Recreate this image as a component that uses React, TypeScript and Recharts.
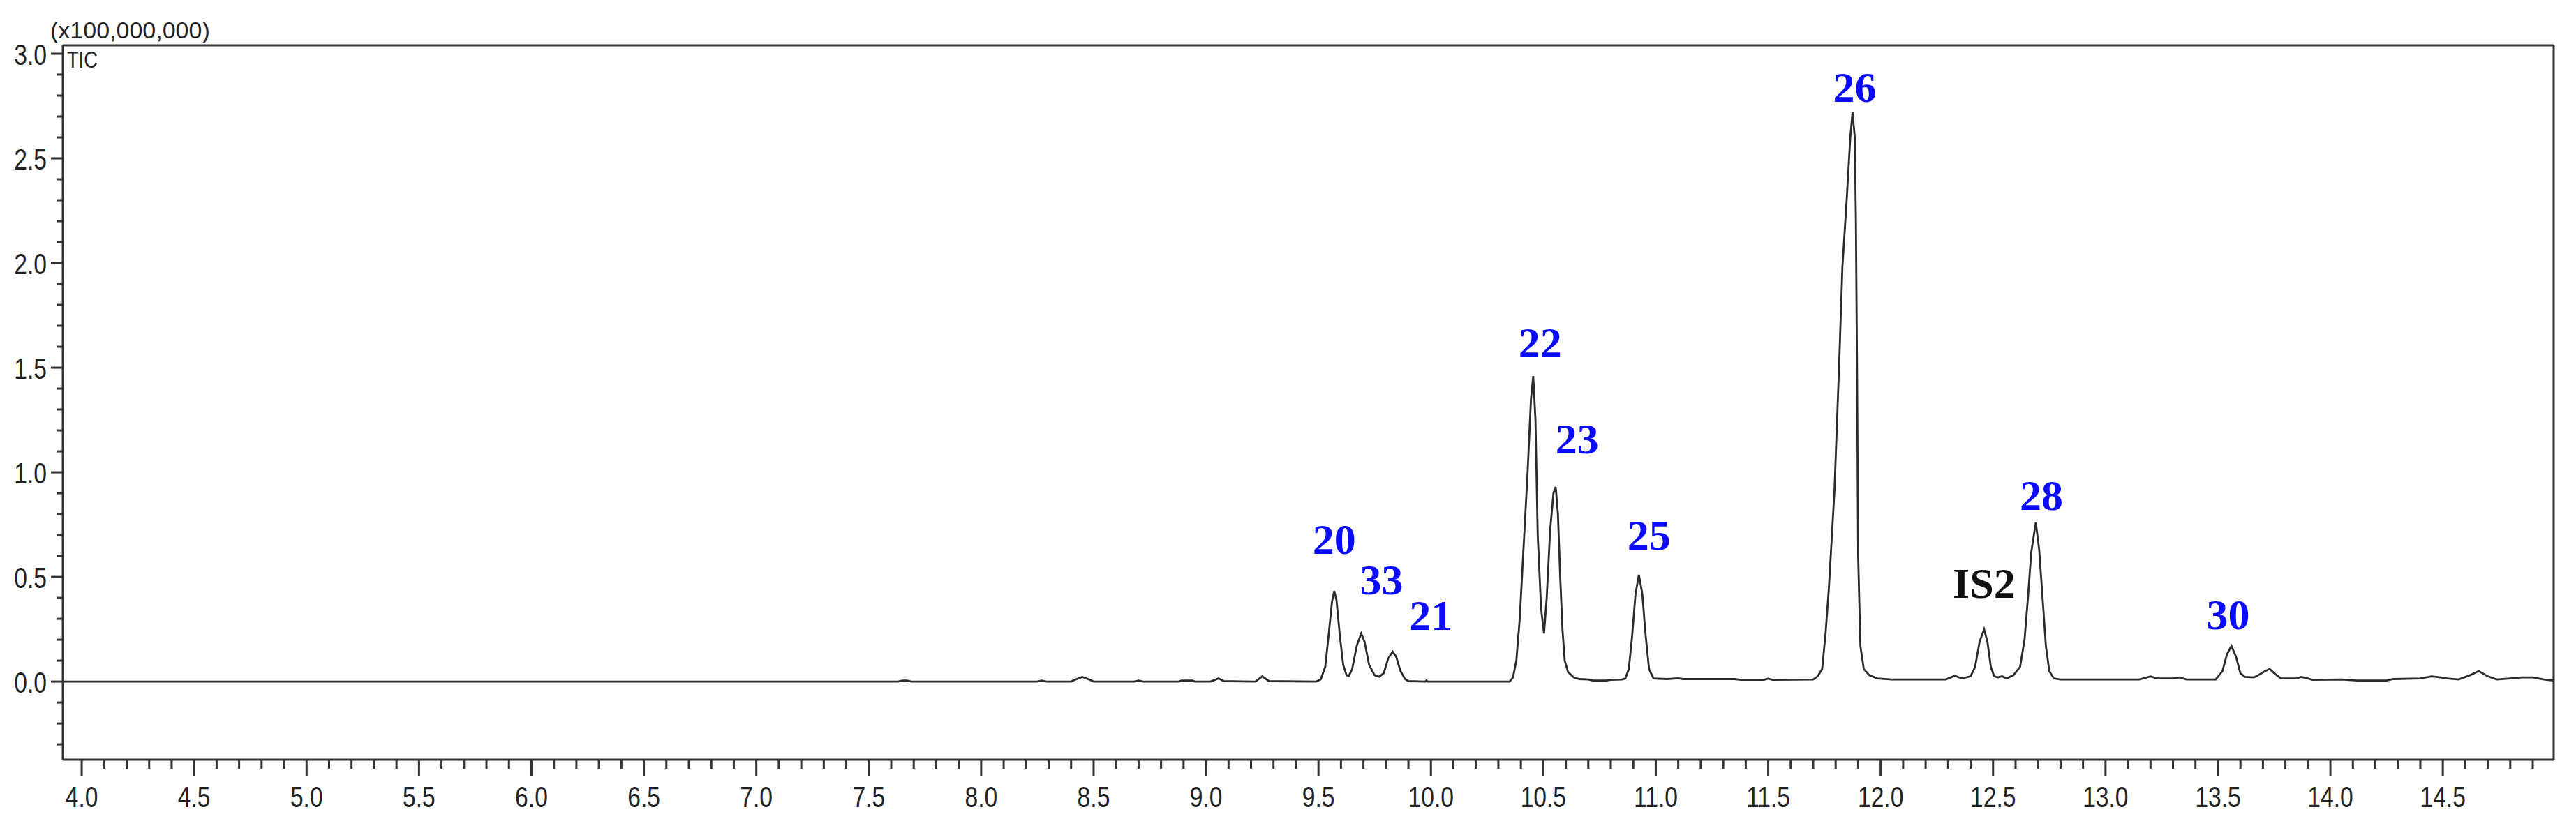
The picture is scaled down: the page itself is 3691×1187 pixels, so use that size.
import { ComposedChart, Line, Scatter, XAxis, YAxis, ReferenceLine } from "recharts";

// TIC trace, retention time (min) vs intensity (x100,000,000)
const retentionTimes = [
  3.916, 7.63, 7.65, 7.67, 7.69, 8.25, 8.27, 8.29, 8.4, 8.42, 8.45, 8.48, 8.5,
  8.68, 8.7, 8.72, 8.88, 8.89, 8.94, 8.95, 9.02, 9.055, 9.08, 9.22, 9.25, 9.28, 9.49,
  9.51, 9.53, 9.545, 9.56, 9.57, 9.58, 9.595, 9.61, 9.625, 9.635,
  9.65, 9.67, 9.69, 9.705, 9.725, 9.75, 9.77,
  9.79, 9.81, 9.83, 9.845, 9.865, 9.885, 9.9, 9.975, 9.98, 9.985, 10.35,
  10.365, 10.38, 10.395, 10.41, 10.43, 10.445, 10.455, 10.465, 10.475, 10.49, 10.503,
  10.515, 10.53, 10.545, 10.555, 10.565, 10.575, 10.585, 10.595, 10.61, 10.635, 10.66,
  10.7, 10.72, 10.78, 10.8, 10.85,
  10.865, 10.88, 10.895, 10.91, 10.925, 10.94, 10.955, 10.97, 10.99, 11.05, 11.1, 11.12,
  11.35, 11.38, 11.48, 11.5, 11.52, 11.7,
  11.72, 11.74, 11.755, 11.77, 11.795, 11.815, 11.83, 11.85, 11.865, 11.875, 11.885,
  11.89, 11.895, 11.9, 11.91, 11.925, 11.95, 11.985, 12.05, 12.29, 12.33, 12.36,
  12.4, 12.42, 12.44, 12.46, 12.475, 12.49, 12.505, 12.52, 12.54, 12.56, 12.59,
  12.62, 12.64, 12.655, 12.67, 12.69, 12.705, 12.72, 12.735, 12.75, 12.77, 12.8,
  13.15, 13.2, 13.23, 13.3, 13.33, 13.36, 13.49,
  13.52, 13.54, 13.56, 13.58, 13.6, 13.62, 13.66, 13.67, 13.71, 13.73, 13.75, 13.78,
  13.85, 13.87, 13.9, 13.92, 14.05, 14.12, 14.25, 14.28, 14.4, 14.45, 14.49, 14.52,
  14.57, 14.62, 14.66, 14.7, 14.74, 14.8, 14.85, 14.9, 14.95, 14.993,
];

const intensities = [
  0, 0, 0.005, 0.005, 0, 0, 0.005, 0, 0, 0.01, 0.022, 0.01, 0,
  0, 0.005, 0, 0, 0.005, 0.005, 0, 0, 0.015, 0.002, 0, 0.025, 0.002, 0,
  0.01, 0.07, 0.22, 0.38, 0.433, 0.39, 0.22, 0.08, 0.03, 0.027,
  0.06, 0.17, 0.23, 0.19, 0.08, 0.03, 0.023,
  0.04, 0.11, 0.143, 0.12, 0.05, 0.012, 0.002, 0, 0.006, 0, 0,
  0.02, 0.1, 0.3, 0.6, 1.0, 1.35, 1.46, 1.25, 0.7, 0.35, 0.23,
  0.4, 0.72, 0.9, 0.93, 0.8, 0.5, 0.25, 0.1, 0.045, 0.02, 0.012,
  0.01, 0.005, 0.005, 0.008, 0.01,
  0.015, 0.06, 0.22, 0.42, 0.51, 0.42, 0.22, 0.06, 0.015, 0.012, 0.016, 0.012,
  0.012, 0.008, 0.008, 0.014, 0.008, 0.01,
  0.025, 0.06, 0.23, 0.45, 0.92, 1.5, 1.98, 2.32, 2.6, 2.72, 2.6,
  2.2, 1.5, 0.6, 0.17, 0.06, 0.03, 0.015, 0.01, 0.01, 0.028, 0.015,
  0.025, 0.07, 0.19, 0.25, 0.19, 0.07, 0.025, 0.02, 0.025, 0.015, 0.03,
  0.07, 0.2, 0.4, 0.62, 0.76, 0.63, 0.4, 0.17, 0.05, 0.015, 0.01,
  0.01, 0.025, 0.015, 0.015, 0.02, 0.01, 0.01,
  0.05, 0.13, 0.17, 0.12, 0.04, 0.022, 0.02, 0.025, 0.05, 0.06, 0.04, 0.015,
  0.015, 0.022, 0.015, 0.008, 0.01, 0.005, 0.005, 0.012, 0.015, 0.025, 0.02, 0.015,
  0.01, 0.03, 0.05, 0.025, 0.01, 0.015, 0.02, 0.02, 0.01, 0.005,
];

const peakNames = ["20", "33", "21", "22", "23", "25", "26", "IS2", "28", "30"];
const peakLabelTimes = [9.57, 9.78, 10.0, 10.486, 10.65, 10.97, 11.885, 12.46, 12.715, 13.545];
const peakLabelLevels = [0.61, 0.417, 0.247, 1.55, 1.09, 0.63, 2.77, 0.4, 0.82, 0.25];

const xMajorTicks = [4.0, 4.5, 5.0, 5.5, 6.0, 6.5, 7.0, 7.5, 8.0, 8.5, 9.0, 9.5, 10.0, 10.5, 11.0, 11.5, 12.0, 12.5, 13.0, 13.5, 14.0, 14.5];
const yMajorTicks = [0.0, 0.5, 1.0, 1.5, 2.0, 2.5, 3.0];

const X_MIN = 3.916;
const X_MAX = 14.993;
const Y_MIN = -0.373;
const Y_MAX = 3.04;

const trace = retentionTimes.map((t, i) => ({ t, v: intensities[i] }));
const peakLabels = peakNames.map((name, i) => ({ name, t: peakLabelTimes[i], v: peakLabelLevels[i] }));

// minor ticks every 0.1
const xTicks: number[] = [];
for (let k = 40; k <= 149; k++) xTicks.push(k / 10);
const yTicks: number[] = [];
for (let k = -3; k <= 30; k++) yTicks.push(k / 10);

const AXIS = "#333333";
const tickFont = "'Liberation Sans', Arial, sans-serif";

// condensed look of the instrument software labels
function NarrowText({ x, y, anchor, size, children }: any) {
  return (
    <text
      transform={`translate(${x},${y}) scale(0.8,1)`}
      textAnchor={anchor}
      fontSize={size}
      fontFamily={tickFont}
      fill="#222"
    >
      {children}
    </text>
  );
}

function XTick(props: any) {
  const { x, y, payload } = props;
  const major = xMajorTicks.some((m) => Math.abs(m - payload.value) < 1e-6);
  return (
    <g>
      <line x1={x} x2={x} y1={y} y2={y + (major ? 23 : 13)} stroke={AXIS} strokeWidth={3} />
      {major && (
        <NarrowText x={x} y={y + 68} anchor="middle" size={42}>
          {payload.value.toFixed(1)}
        </NarrowText>
      )}
    </g>
  );
}

function YTick(props: any) {
  const { x, y, payload } = props;
  const major = yMajorTicks.some((m) => Math.abs(m - payload.value) < 1e-6);
  return (
    <g>
      <line x1={x - (major ? 17 : 9)} x2={x} y1={y} y2={y} stroke={AXIS} strokeWidth={3} />
      {major && (
        <NarrowText x={x - 23} y={y + 16} anchor="end" size={42}>
          {payload.value.toFixed(1)}
        </NarrowText>
      )}
    </g>
  );
}

function PeakLabel(props: any) {
  const { cx, cy, payload } = props;
  return (
    <text
      x={cx}
      y={cy}
      textAnchor="middle"
      fontSize={62}
      fontWeight="bold"
      fontFamily="'Liberation Serif', 'Times New Roman', serif"
      fill={payload.name === "IS2" ? "#111111" : "#0a0aff"}
    >
      {payload.name}
    </text>
  );
}

export default function App() {
  return (
    <div style={{ position: "relative", width: 3691, height: 1187, background: "#fff" }}>
      <style>{"body{margin:0}"}</style>
      <ComposedChart width={3691} height={1187} margin={{ top: 65, right: 32, bottom: 0, left: 0 }}>
        <XAxis
          type="number"
          dataKey="t"
          domain={[X_MIN, X_MAX]}
          ticks={xTicks}
          interval={0}
          allowDataOverflow
          height={98}
          tickLine={false}
          tickSize={0}
          tickMargin={0}
          tick={<XTick />}
          axisLine={{ stroke: AXIS, strokeWidth: 3 }}
        />
        <YAxis
          type="number"
          dataKey="v"
          domain={[Y_MIN, Y_MAX]}
          ticks={yTicks}
          interval={0}
          allowDataOverflow
          width={90}
          tickLine={false}
          tickSize={0}
          tickMargin={0}
          tick={<YTick />}
          axisLine={{ stroke: AXIS, strokeWidth: 3 }}
        />
        <ReferenceLine y={Y_MAX} stroke={AXIS} strokeWidth={3} />
        <ReferenceLine x={X_MAX} stroke={AXIS} strokeWidth={3} />
        <Line
          data={trace}
          dataKey="v"
          type="linear"
          stroke="#2b2b2b"
          strokeWidth={2.8}
          dot={false}
          isAnimationActive={false}
        />
        <Scatter data={peakLabels} dataKey="v" shape={<PeakLabel />} isAnimationActive={false} />
      </ComposedChart>
      <svg width={400} height={120} style={{ position: "absolute", left: 0, top: 0 }}>
        <text x={72} y={55} fontSize={34} fontFamily={tickFont} fill="#222">
          (x100,000,000)
        </text>
        <NarrowText x={96} y={97} anchor="start" size={34}>
          TIC
        </NarrowText>
      </svg>
    </div>
  );
}
